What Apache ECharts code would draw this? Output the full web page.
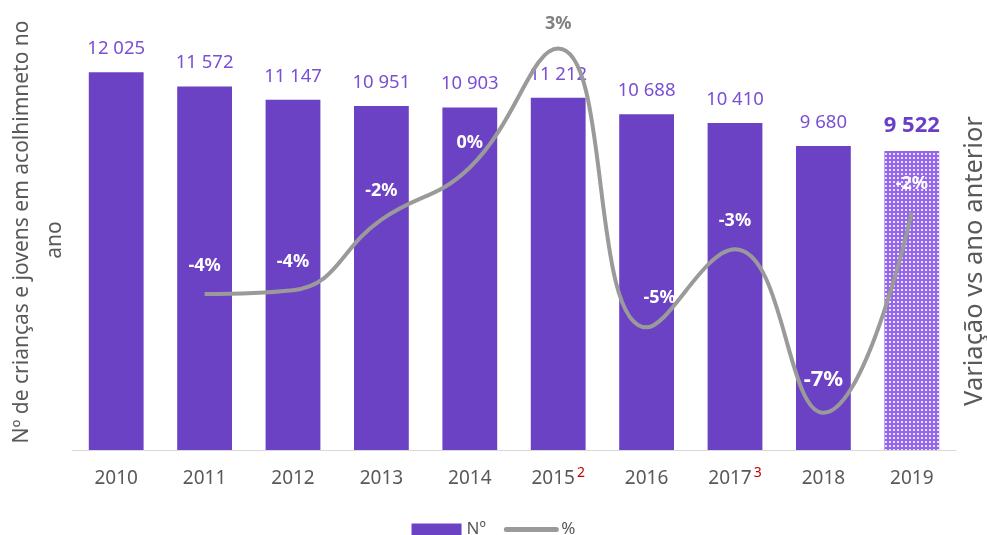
<!DOCTYPE html>
<html>
<head>
<meta charset="utf-8">
<script src="https://cdn.jsdelivr.net/npm/echarts@6/dist/echarts.min.js"></script>
<style>
  html, body { margin: 0; padding: 0; background: #fff; }
  #chart { width: 987px; height: 535px; }
</style>
</head>
<body>
<div id="chart"></div>
<script>
const years = ['2010', '2011', '2012', '2013', '2014', '2015', '2016', '2017', '2018', '2019'];
const counts = [12025, 11572, 11147, 10951, 10903, 11212, 10688, 10410, 9680, 9522];
const pctChange = [null, -3.8, -3.7, -1.8, -0.4, 2.8, -4.7, -2.6, -7.0, -1.6];
const yearNotes = { '2015': '2', '2017': '3' };

const FONT = 'Noto Sans';
const PURPLE = '#6c42c5';
const LABEL_PURPLE = '#7a4fd6';
const GREY = '#9a9a9a';
const TEXT = '#595959';

// dotted fill for the last (provisional) bar
const pat = document.createElement('canvas');
pat.width = 4; pat.height = 4;
const pctx = pat.getContext('2d');
pctx.fillStyle = '#9466ea';
pctx.fillRect(0, 0, 4, 4);
pctx.fillStyle = 'rgba(255,255,255,0.8)';
pctx.fillRect(1, 1, 2, 2);

const fmtNum = v => String(v).replace(/\B(?=(\d{3})+(?!\d))/g, ' ');

const barData = counts.map((v, i) => {
  if (i === counts.length - 1) {
    return {
      value: v,
      itemStyle: { color: { image: pat, repeat: 'repeat' } },
      label: { fontWeight: 'bold', fontSize: 22, color: '#6a3fc8' }
    };
  }
  return v;
});

const lineData = pctChange.map((v, i) => {
  if (v === null) return null;
  const item = { value: v };
  if (years[i] === '2014') item.label = { distance: 15 };
  if (years[i] === '2015') item.label = { color: '#808080', distance: 15 };
  if (years[i] === '2016') item.label = { offset: [13, 0], distance: 20 };
  if (years[i] === '2018') item.label = { fontSize: 22, distance: 22 };
  return item;
});

const chart = echarts.init(document.getElementById('chart'));
chart.setOption({
  textStyle: { fontFamily: FONT },
  animation: false,
  grid: { left: 72, right: 31, top: 30, bottom: 85, outerBoundsMode: 'none', containLabel: false },
  graphic: [
    {
      type: 'text',
      x: 22, y: 232,
      rotation: Math.PI / 2,
      style: {
        text: 'Nº de crianças e jovens em acolhimneto no',
        fill: TEXT, font: '21px "Noto Sans"',
        align: 'center', verticalAlign: 'middle'
      }
    },
    {
      type: 'text',
      x: 55, y: 240,
      rotation: Math.PI / 2,
      style: {
        text: 'ano',
        fill: TEXT, font: '21px "Noto Sans"',
        align: 'center', verticalAlign: 'middle'
      }
    },
    {
      type: 'text',
      x: 975, y: 261,
      rotation: Math.PI / 2,
      style: {
        text: 'Variação vs ano anterior',
        fill: TEXT, font: '25.5px "Noto Sans"',
        align: 'center', verticalAlign: 'middle'
      }
    }
  ],
  legend: {
    top: 516,
    itemWidth: 50,
    itemHeight: 12,
    itemGap: 18,
    textStyle: { fontSize: 17, color: TEXT, fontFamily: FONT },
    data: [
      { name: 'Nº', icon: 'rect' },
      { name: '%', lineStyle: { width: 5, cap: 'round' } }
    ]
  },
  xAxis: {
    type: 'category',
    data: years,
    axisLine: { lineStyle: { color: '#d9d9d9', width: 1 } },
    axisTick: { length: 6, lineStyle: { color: '#d9d9d9' } },
    axisLabel: {
      interval: 0,
      margin: 16,
      formatter: v => '{y|' + v + '}' + (yearNotes[v] ? '{sup|' + yearNotes[v] + '}' : ''),
      rich: {
        y: { fontSize: 19, color: TEXT, lineHeight: 26, fontFamily: FONT },
        sup: { fontSize: 14, color: '#c00000', lineHeight: 14, verticalAlign: 'top', padding: [0, 0, 0, 2], fontFamily: FONT }
      }
    }
  },
  yAxis: [
    {
      type: 'value',
      min: 0,
      max: 13370,
      axisLine: { show: false },
      axisTick: { show: false },
      axisLabel: { show: false },
      splitLine: { show: false }
    },
    {
      type: 'value',
      min: -8,
      max: 3.3,
      axisLine: { show: false },
      axisTick: { show: false },
      axisLabel: { show: false },
      splitLine: { show: false }
    }
  ],
  series: [
    {
      name: 'Nº',
      type: 'bar',
      data: barData,
      barWidth: '62%',
      itemStyle: { color: PURPLE },
      label: {
        show: true,
        position: 'top',
        distance: 14,
        fontSize: 18.5,
        color: LABEL_PURPLE,
        formatter: p => fmtNum(p.value)
      }
    },
    {
      name: '%',
      type: 'line',
      yAxisIndex: 1,
      data: lineData,
      smooth: 0.45,
      symbol: 'circle',
      symbolSize: 1,
      showSymbol: true,
      lineStyle: { color: GREY, width: 4 },
      itemStyle: { color: 'rgba(0,0,0,0)', borderWidth: 0 },
      label: {
        show: true,
        position: 'top',
        distance: 19,
        fontSize: 18,
        fontWeight: 'bold',
        color: '#ffffff',
        formatter: p => Math.round(p.value) + '%'
      }
    }
  ]
});
</script>
</body>
</html>
